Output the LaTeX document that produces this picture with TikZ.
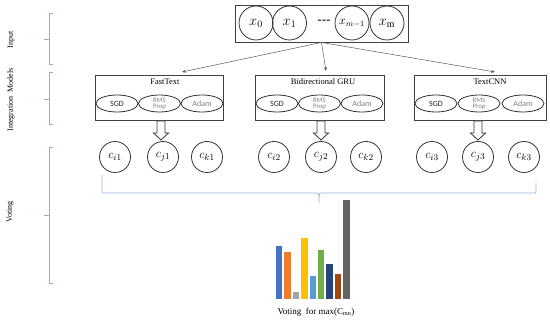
\documentclass[tikz,border=0pt]{standalone}
\usepackage{fontspec}
\setmainfont{Liberation Serif}
\newfontfamily\calibrifont{Carlito}
\usetikzlibrary{shapes.geometric,arrows.meta}
\definecolor{bracecol}{RGB}{150,175,218}
\definecolor{barA}{HTML}{4472C4}
\definecolor{barB}{HTML}{ED7D31}
\definecolor{barC}{HTML}{A5A5A5}
\definecolor{barD}{HTML}{FFC000}
\definecolor{barE}{HTML}{5B9BD5}
\definecolor{barF}{HTML}{70AD47}
\definecolor{barG}{HTML}{264478}
\definecolor{barH}{HTML}{9E480E}
\definecolor{barI}{HTML}{636363}
\tikzset{
  framebox/.style={draw=black!75, line width=0.9pt, inner sep=0pt},
  incirc/.style={circle, draw=black!80, line width=0.8pt, minimum size=34pt, inner sep=0pt, font=\fontsize{14}{14}\selectfont},
  optell/.style={ellipse, draw=black!80, line width=0.8pt, minimum width=42pt, minimum height=17pt, inner sep=0pt, align=center},
  ccirc/.style={circle, draw=black!80, line width=0.8pt, minimum size=31pt, inner sep=0pt, font=\fontsize{13}{13}\selectfont},
  link/.style={-{Stealth[length=4pt,width=3pt]}, draw=black!65, line width=0.5pt},
  bracket/.style={draw=bracecol, line width=0.7pt},
  sidelabel/.style={rotate=90, font=\fontsize{8}{8}\selectfont},
  modeltitle/.style={font=\fontsize{8.5}{8.5}\selectfont, inner sep=0pt},
  harrow/.pic={\draw[black!80, line width=0.8pt, fill=white] (-4,0) -- (-4,12) -- (-7.5,12) -- (0,19) -- (7.5,12) -- (4,12) -- (4,0) -- cycle;}
}
\newcommand\optbig{\calibrifont\fontsize{8}{8}\selectfont}
\newcommand\optsmall{\calibrifont\fontsize{6.8}{6.3}\selectfont}
\begin{document}
\begin{tikzpicture}[x=1pt,y=-1pt]
\useasboundingbox (0,0) rectangle (550,323);

% side labels and brackets
\node[sidelabel] (lin) at (11,40) {Input};
\node[sidelabel] (lint) at (11,100) {Integration\ \ Models};
\node[sidelabel] (lvot) at (10,212) {Voting};
\draw[bracket] (53,13) -- (49,13) -- (49,64) -- (53,64) (49,39) -- (44,39);
\draw[bracket] (53,72) -- (49,72) -- (49,124) -- (53,124) (49,99) -- (44,99);
\draw[bracket] (53,147) -- (49,147) -- (49,283) -- (53,283) (49,215) -- (44,215);

% input box
\node[framebox, minimum width=173pt, minimum height=37pt] (inbox) at (321.5,23.5) {};
\node[incirc] (x0) at (256,23) {$x_0$};
\node[incirc] (x1) at (289.5,23) {$x_1$};
\node[inner sep=0pt, font=\bfseries\fontsize{12}{12}\selectfont] (xd) at (324,22) {-\kern0.3pt-\kern0.3pt-};
\node[incirc, font=\fontsize{12}{12}\selectfont] (xm1) at (352,23) {$x_{m-1}$};
\node[incirc] (xm) at (387,23) {$x_{\mathrm{m}}$};

% model boxes
\node[framebox, minimum width=128pt, minimum height=44.5pt] (ft) at (159.5,97.8) {};
\node[framebox, minimum width=129pt, minimum height=44.5pt] (gru) at (319.5,97.8) {};
\node[framebox, minimum width=132pt, minimum height=44.5pt] (cnn) at (480,97.8) {};
\node[modeltitle] (ftt) at (165,82) {FastText};
\node[modeltitle] (grut) at (323,82) {Bidirectional GRU};
\node[modeltitle] (cnnt) at (490,82) {TextCNN};

\coordinate (ftin) at (182,72);
\coordinate (gruin) at (326,71);
\coordinate (cnnin) at (495,72);
\draw[link] (inbox.south) -- (ftin);
\draw[link] (inbox.south) -- (gruin);
\draw[link] (inbox.south) -- (cnnin);

% optimizer ellipses
\node[optell, text=black!85, font=\optbig] (ft1) at (117,103.5) {SGD};
\node[optell, text=black!50, font=\optsmall] (ft2) at (159.5,103.5) {RMS\\Prop};
\node[optell, text=black!50, font=\optbig] (ft3) at (202,103.5) {Adam};
\node[optell, text=black!85, font=\optbig] (gru1) at (277,103.5) {SGD};
\node[optell, text=black!50, font=\optsmall] (gru2) at (319.5,103.5) {RMS\\Prop};
\node[optell, text=black!50, font=\optbig] (gru3) at (362,103.5) {Adam};
\node[optell, text=black!85, font=\optbig] (cnn1) at (436,103.5) {SGD};
\node[optell, text=black!50, font=\optsmall] (cnn2) at (479,103.5) {RMS\\Prop};
\node[optell, text=black!50, font=\optbig] (cnn3) at (523,103.5) {Adam};

% hollow arrows
\pic at (161,121) {harrow};
\pic at (321,121) {harrow};
\pic at (478,121) {harrow};

% class circles
\node[ccirc] (ci1) at (115,157) {$c_{i1}$};
\node[ccirc] (cj1) at (163,157) {$c_{j1}$};
\node[ccirc] (ck1) at (207,157) {$c_{k1}$};
\node[ccirc] (ci2) at (274,157) {$c_{i2}$};
\node[ccirc] (cj2) at (321,157) {$c_{j2}$};
\node[ccirc] (ck2) at (366,157) {$c_{k2}$};
\node[ccirc] (ci3) at (432,157) {$c_{i3}$};
\node[ccirc] (cj3) at (478,157) {$c_{j3}$};
\node[ccirc] (ck3) at (524,157) {$c_{k3}$};

% big bracket
\draw[bracket] (102,175) -- (102,191) .. controls (102,193) .. (104,193) -- (316,193)
  .. controls (319,193) .. (319,203) .. controls (319,193) .. (322,193) -- (534,193)
  .. controls (536,193) .. (536,191) -- (536,183);

% bar chart
\foreach \c/\xl/\t in {barA/276/245.7, barB/284.4/251.7, barC/292.8/292, barD/301.2/238,
  barE/309.6/275.7, barF/318/249.7, barG/326.4/263.7, barH/334.8/274, barI/343.2/200}
  \fill[\c] (\xl,299) rectangle ++(6.3,\t-299);
\node[font=\fontsize{9}{9}\selectfont, inner sep=0pt] (vlab) at (316,312) {Voting\ \ for max(C\textsubscript{mn})};
\end{tikzpicture}
\end{document}
